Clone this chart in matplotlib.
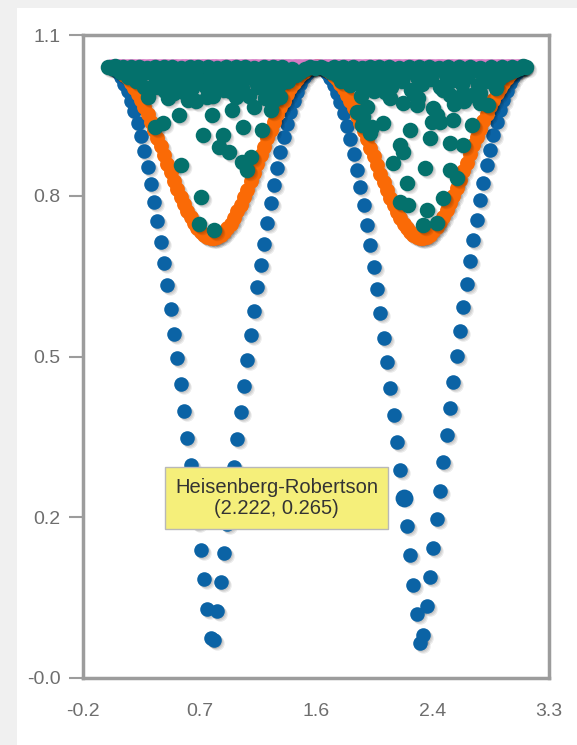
import matplotlib
matplotlib.use("Agg")
import matplotlib.pyplot as plt
import matplotlib.transforms as transforms
from matplotlib.patches import Rectangle
from matplotlib.ticker import FormatStrFormatter
import numpy as np

# =====================================================
# DATA
# =====================================================

X = [
    0.022, 0.047, 0.072, 0.097, 0.122, 0.147, 0.172, 0.197, 0.222, 0.247,
    0.272, 0.297, 0.322, 0.347, 0.372, 0.397, 0.422, 0.447, 0.472, 0.497,
    0.522, 0.547, 0.572, 0.597, 0.622, 0.647, 0.672, 0.697, 0.722, 0.747,
    0.772, 0.797, 0.822, 0.847, 0.872, 0.897, 0.922, 0.947, 0.972, 0.997,
    1.022, 1.047, 1.072, 1.097, 1.122, 1.147, 1.172, 1.197, 1.222, 1.247,
    1.272, 1.297, 1.322, 1.347, 1.372, 1.397, 1.422, 1.447, 1.472, 1.497,
    1.522, 1.547, 1.572, 1.597, 1.622, 1.647, 1.672, 1.697, 1.722, 1.747,
    1.772, 1.797, 1.822, 1.847, 1.872, 1.897, 1.922, 1.947, 1.972, 1.997,
    2.022, 2.047, 2.072, 2.097, 2.122, 2.147, 2.172, 2.197, 2.222, 2.247,
    2.272, 2.297, 2.322, 2.347, 2.372, 2.397, 2.422, 2.447, 2.472, 2.497,
    2.522, 2.547, 2.572, 2.597, 2.622, 2.647, 2.672, 2.697, 2.722, 2.747,
    2.772, 2.797, 2.822, 2.847, 2.872, 2.897, 2.922, 2.947, 2.972, 2.997,
    3.022, 3.047, 3.072, 3.097, 3.122,
]

# Heisenberg-Robertson (blue)
HR_Y = [
    0.999, 0.996, 0.990, 0.981, 0.970, 0.957, 0.941, 0.923, 0.903, 0.881,
    0.856, 0.829, 0.800, 0.769, 0.736, 0.701, 0.665, 0.627, 0.587, 0.545,
    0.503, 0.459, 0.414, 0.368, 0.321, 0.273, 0.225, 0.176, 0.127, 0.077,
    0.027, 0.023, 0.073, 0.123, 0.172, 0.221, 0.270, 0.318, 0.365, 0.411,
    0.456, 0.500, 0.542, 0.584, 0.624, 0.662, 0.698, 0.733, 0.767, 0.798,
    0.827, 0.854, 0.879, 0.902, 0.922, 0.940, 0.956, 0.970, 0.981, 0.989,
    0.995, 0.999, 1.000, 0.999, 0.995, 0.988, 0.980, 0.968, 0.955, 0.939,
    0.920, 0.899, 0.876, 0.851, 0.824, 0.795, 0.763, 0.730, 0.695, 0.658,
    0.620, 0.580, 0.538, 0.496, 0.452, 0.406, 0.360, 0.313, 0.265, 0.217,
    0.168, 0.118, 0.068, 0.018, 0.032, 0.082, 0.131, 0.181, 0.230, 0.278,
    0.326, 0.372, 0.418, 0.463, 0.507, 0.549, 0.590, 0.630, 0.668, 0.704,
    0.739, 0.772, 0.802, 0.831, 0.858, 0.883, 0.905, 0.925, 0.943, 0.958,
    0.972, 0.982, 0.990, 0.996, 0.999,
]

# orange bound
OR_Y = [
    0.999, 0.998, 0.995, 0.991, 0.985, 0.979, 0.971, 0.963, 0.953, 0.942,
    0.931, 0.918, 0.905, 0.892, 0.878, 0.864, 0.849, 0.834, 0.820, 0.805,
    0.791, 0.778, 0.765, 0.754, 0.743, 0.733, 0.725, 0.718, 0.713, 0.709,
    0.707, 0.707, 0.709, 0.712, 0.718, 0.724, 0.732, 0.742, 0.753, 0.764,
    0.777, 0.790, 0.804, 0.819, 0.833, 0.848, 0.862, 0.877, 0.891, 0.905,
    0.918, 0.930, 0.941, 0.952, 0.962, 0.971, 0.978, 0.985, 0.990, 0.995,
    0.998, 0.999, 1.000, 0.999, 0.997, 0.994, 0.990, 0.984, 0.978, 0.970,
    0.961, 0.951, 0.940, 0.929, 0.916, 0.903, 0.890, 0.876, 0.861, 0.847,
    0.832, 0.817, 0.803, 0.789, 0.776, 0.763, 0.752, 0.741, 0.732, 0.724,
    0.717, 0.712, 0.709, 0.707, 0.708, 0.709, 0.713, 0.719, 0.726, 0.734,
    0.744, 0.755, 0.767, 0.779, 0.793, 0.807, 0.821, 0.836, 0.850, 0.865,
    0.879, 0.893, 0.907, 0.919, 0.932, 0.943, 0.954, 0.963, 0.972, 0.979,
    0.986, 0.991, 0.995, 0.998, 1.000,
]

# pink upper line
PINK_Y = [1.0] * len(X)

# teal samples
TEAL_X = [
    # left lobe
    0.357, 0.412, 0.536, 0.714, 0.783, 0.866, 0.838, 0.908, 0.550, 1.004,
    1.045, 1.072, 0.701, 0.687, 0.797, 1.017, 1.155, 1.224, 1.238, 1.100,
    0.962, 0.935, 0.742, 0.605, 0.632, 0.495, 0.384, 0.302, 0.825, 0.989,
    1.128, 1.238, 1.292,
    # right lobe
    2.083, 2.218, 2.331, 2.323, 1.947, 1.872, 1.917, 1.910, 1.985, 2.068,
    1.970, 2.271, 2.444, 2.474, 2.496, 2.436, 2.594, 2.519, 2.571, 2.669,
    2.737, 2.797, 2.857, 2.737, 2.421, 2.195, 2.218, 2.571, 2.669, 2.143,
    2.383, 2.571, 2.624, 2.248, 2.195, 2.256, 2.519, 2.398, 2.368, 2.474,
    # top band
    0.00, 0.03, 0.06, 0.09, 0.12, 0.15, 0.18, 0.21, 0.24, 0.27,
    0.30, 0.33, 0.36, 0.40, 0.43, 0.46, 0.50, 0.53, 0.56, 0.60,
    0.63, 0.67, 0.70, 0.74, 0.77, 0.80, 0.84, 0.87, 0.90, 0.94,
    0.97, 1.01, 1.04, 1.08, 1.12, 1.15, 1.19, 1.22, 1.26, 1.29,
    1.32, 1.35, 1.38, 1.41, 1.44, 1.48, 1.52, 1.56, 1.60, 1.64,
    1.68, 1.72, 1.75, 1.78, 1.82, 1.85, 1.88, 1.92, 1.95, 1.99,
    2.02, 2.06, 2.10, 2.13, 2.17, 2.21, 2.25, 2.28, 2.32, 2.36,
    2.39, 2.43, 2.47, 2.50, 2.54, 2.58, 2.62, 2.66, 2.70, 2.74,
    2.78, 2.82, 2.86, 2.90, 2.94, 2.98, 3.02, 3.06, 3.10, 3.14,
    # top edge
    0.05, 0.11, 0.17, 0.23, 0.29, 0.35, 0.42, 0.48, 0.55, 0.62,
    0.68, 0.75, 0.82, 0.89, 0.96, 1.03, 1.10, 1.17, 1.24, 1.31,
    1.70, 1.77, 1.84, 1.91, 1.97, 2.04, 2.11, 2.19, 2.26, 2.34,
    2.41, 2.49, 2.56, 2.64, 2.72, 2.80, 2.88, 2.96, 3.04, 3.12,
    # second row
    0.45, 0.58, 0.66, 0.79, 0.92, 1.06, 1.18, 1.90, 2.00, 2.12,
    2.30, 2.60, 2.68, 2.80, 2.92,
]
TEAL_Y = [
    # left lobe
    0.897, 0.903, 0.917, 0.883, 0.917, 0.883, 0.863, 0.854, 0.832, 0.837,
    0.823, 0.846, 0.778, 0.732, 0.721, 0.897, 0.891, 0.925, 0.941, 0.931,
    0.948, 0.925, 0.948, 0.942, 0.962, 0.954, 0.965, 0.948, 0.971, 0.971,
    0.965, 0.965, 0.948,
    # right lobe
    0.956, 0.937, 0.946, 0.934, 0.930, 0.922, 0.913, 0.900, 0.896, 0.903,
    0.886, 0.891, 0.929, 0.917, 0.905, 0.905, 0.908, 0.959, 0.951, 0.954,
    0.951, 0.937, 0.934, 0.900, 0.878, 0.866, 0.854, 0.869, 0.866, 0.835,
    0.827, 0.823, 0.810, 0.801, 0.769, 0.764, 0.776, 0.755, 0.730, 0.733,
    # top band
    0.998, 0.997, 0.995, 0.990, 0.992, 0.982, 0.988, 0.975, 0.985, 0.965,
    0.990, 0.962, 0.975, 0.988, 0.958, 0.970, 0.985, 0.975, 0.993, 0.968,
    0.982, 0.995, 0.975, 0.965, 0.985, 0.992, 0.978, 0.960, 0.988, 0.972,
    0.993, 0.962, 0.980, 0.990, 0.970, 0.985, 0.960, 0.978, 0.992, 0.970,
    0.985, 0.975, 0.995, 0.985, 0.990, 0.995, 0.998, 0.997, 0.998, 0.995,
    0.990, 0.985, 0.975, 0.992, 0.968, 0.980, 0.990, 0.962, 0.975, 0.988,
    0.970, 0.995, 0.980, 0.965, 0.985, 0.975, 0.990, 0.960, 0.982, 0.970,
    0.990, 0.978, 0.995, 0.965, 0.985, 0.975, 0.990, 0.970, 0.982, 0.992,
    0.968, 0.985, 0.975, 0.990, 0.978, 0.985, 0.990, 0.993, 0.997, 0.999,
    # top edge
    1.000, 0.999, 0.998, 0.999, 0.997, 0.999, 0.998, 0.999, 0.997, 0.999,
    0.998, 0.999, 0.997, 0.999, 0.998, 0.999, 0.997, 0.999, 0.998, 0.999,
    0.999, 0.998, 0.999, 0.997, 0.999, 0.998, 0.999, 0.997, 0.999, 0.998,
    0.999, 0.997, 0.999, 0.998, 0.999, 0.997, 0.999, 0.998, 0.999, 1.000,
    # second row
    0.945, 0.955, 0.940, 0.950, 0.958, 0.950, 0.945, 0.950, 0.958, 0.945,
    0.952, 0.935, 0.940, 0.955, 0.962,
]

TOOLTIP_SERIES = "Heisenberg-Robertson"
TOOLTIP_POINT = (2.222, 0.265)

X_RANGE = (-0.188, 3.316)
Y_RANGE = (-0.041, 1.053)

BLUE = "#0b63a5"
ORANGE = "#fa6a06"
PINK = "#d77ac3"
TEAL = "#04716c"

W, H = 577, 745

fig = plt.figure(figsize=(W / 100, H / 100), dpi=100)
fig.patch.set_facecolor("white")

# -------------------------------------------------
# Page background strips
# -------------------------------------------------
fig.add_artist(Rectangle((0, 1 - 8 / H), 1, 8 / H, transform=fig.transFigure,
                         color="#f0f0f0", lw=0, zorder=0))
fig.add_artist(Rectangle((0, 0), 17 / W, 1, transform=fig.transFigure,
                         color="#f0f0f0", lw=0, zorder=0))

ax = fig.add_axes([83 / W, 1 - 678 / H, (549 - 83) / W, (678 - 35) / H])
ax.set_facecolor("white")


def shadow(x, y, s):
    for j in (1, 2, 3):
        tr = transforms.offset_copy(ax.transData, fig=fig,
                                    x=1.0 * j, y=-1.0 * j, units="dots")
        ax.scatter(x, y, s=s, color="black", alpha=0.08,
                   linewidths=0, transform=tr, clip_on=False)


# -------------------------------------------------
# Series
# -------------------------------------------------
shadow(X, HR_Y, 110)
ax.scatter(X, HR_Y, s=110, color=BLUE, linewidths=0, clip_on=False)

shadow(X, OR_Y, 115)
ax.scatter(X, OR_Y, s=115, color=ORANGE, linewidths=0, clip_on=False)

shadow(X, PINK_Y, 110)
ax.scatter(X, PINK_Y, s=110, color=PINK, linewidths=0, clip_on=False)

shadow(TEAL_X, TEAL_Y, 125)
ax.scatter(TEAL_X, TEAL_Y, s=125, color=TEAL, linewidths=0, clip_on=False)

# highlighted point
ax.scatter([TOOLTIP_POINT[0]], [TOOLTIP_POINT[1]], s=165, color=BLUE,
           linewidths=0, zorder=5)

# -------------------------------------------------
# Axes formatting
# -------------------------------------------------
ax.set_xlim(*X_RANGE)
ax.set_ylim(*Y_RANGE)
ax.set_xticks(np.linspace(X_RANGE[0], X_RANGE[1], 5))
ax.set_yticks(np.linspace(Y_RANGE[0], Y_RANGE[1], 5))
ax.xaxis.set_major_formatter(FormatStrFormatter("%.1f"))
ax.yaxis.set_major_formatter(FormatStrFormatter("%.1f"))

for sp in ax.spines.values():
    sp.set_color("#9c9c9c")
    sp.set_linewidth(2.5)

ax.tick_params(axis="y", length=10, width=1.5, color="#9c9c9c",
               labelcolor="#6e6e6e", labelsize=14, pad=6)
ax.tick_params(axis="x", length=0, labelcolor="#6e6e6e", labelsize=14, pad=18)
for lab in ax.get_xticklabels() + ax.get_yticklabels():
    lab.set_family("Liberation Sans")

# -------------------------------------------------
# Tooltip
# -------------------------------------------------
fig.add_artist(Rectangle((165 / W, 1 - 529 / H), 223 / W, 62 / H,
                         transform=fig.transFigure, facecolor="#f5ef7a",
                         edgecolor="#b8b8b8", lw=1, zorder=10))
fig.text(276.5 / W, 1 - 498 / H,
         "%s\n(%.3f, %.3f)" % (TOOLTIP_SERIES, TOOLTIP_POINT[0], TOOLTIP_POINT[1]),
         ha="center", va="center", multialignment="center",
         fontsize=14.5, family="Liberation Sans", color="#333333",
         linespacing=1.1, zorder=11)

fig.savefig("out.png", dpi=100)
